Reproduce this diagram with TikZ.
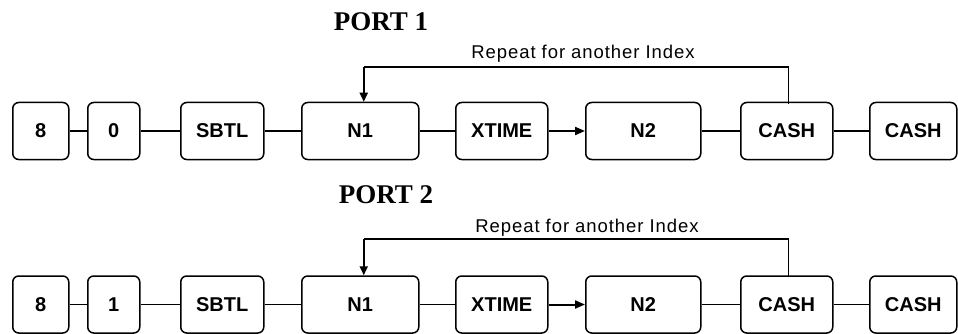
\documentclass[tikz,border=0pt]{standalone}
\usepackage{fontspec}
\setmainfont{Liberation Serif}
\newfontfamily\arialfont{Liberation Sans}
\newfontfamily\arialsp[LetterSpace=5]{Liberation Sans}
\usetikzlibrary{arrows.meta}
\tikzset{
  keybox/.style={draw, line width=1.5pt, rectangle, rounded corners=6pt,
    minimum height=57pt, inner sep=0pt, anchor=west,
    font=\arialfont\bfseries\fontsize{20}{22}\selectfont},
  link/.style={line width=1.5pt},
  linkarrow/.style={line width=2pt, -{Triangle[length=10pt,width=8pt]}},
  loopline/.style={line width=1.4pt},
  looparrow/.style={line width=2pt, -{Triangle[length=9pt,width=8pt]}},
  reptext/.style={anchor=base, inner sep=0pt, font=\arialsp\fontsize{18.5}{20}\selectfont},
  porttext/.style={anchor=base, inner sep=0pt, font=\bfseries\fontsize{27}{29}\selectfont},
}
\begin{document}
\begin{tikzpicture}[x=1pt,y=1pt]
\useasboundingbox (0,0) rectangle (958,-334);
% ---------- PORT 1 ----------
\node[porttext] (p1) at (381,-31) {PORT 1};
\node[reptext] (rep1) at (583,-59) {Repeat for another Index};
\node[keybox, minimum width=56pt] (a8) at (12,-131) {8};
\node[keybox, minimum width=52pt] (a0) at (87,-131) {0};
\node[keybox, minimum width=83pt] (asb) at (180,-131) {SBTL};
\node[keybox, minimum width=117pt] (an1) at (301,-131) {N1};
\node[keybox, minimum width=92pt] (axt) at (455,-131) {XTIME};
\node[keybox, minimum width=115pt] (an2) at (585,-131) {N2};
\node[keybox, minimum width=92pt] (ac1) at (740,-131) {CASH};
\node[keybox, minimum width=87pt] (ac2) at (869,-131) {CASH};
\draw[link] (a8) -- (a0);
\draw[link] (a0) -- (asb);
\draw[link] (asb) -- (an1);
\draw[link] (an1) -- (axt);
\draw[linkarrow] (axt) -- (an2);
\draw[link] (an2) -- (ac1);
\draw[link] (ac1) -- (ac2);
\coordinate (r1) at (788,-67);
\draw[loopline] ([xshift=2pt,yshift=-2pt]ac1.north) |- ([xshift=3.5pt]an1.north |- r1);
\draw[looparrow] ([xshift=3.5pt]an1.north |- r1) -- ([xshift=3.5pt]an1.north);
% ---------- PORT 2 ----------
\node[porttext] (p2) at (386,-203) {PORT 2};
\node[reptext] (rep2) at (587,-232) {Repeat for another Index};
\node[keybox, minimum width=56pt] (b8) at (12,-304.5) {8};
\node[keybox, minimum width=52pt] (b1) at (87,-304.5) {1};
\node[keybox, minimum width=83pt] (bsb) at (180,-304.5) {SBTL};
\node[keybox, minimum width=117pt] (bn1) at (301,-304.5) {N1};
\node[keybox, minimum width=92pt] (bxt) at (455,-304.5) {XTIME};
\node[keybox, minimum width=115pt] (bn2) at (585,-304.5) {N2};
\node[keybox, minimum width=92pt] (bc1) at (740,-304.5) {CASH};
\node[keybox, minimum width=87pt] (bc2) at (869,-304.5) {CASH};
\draw[link] (b8) -- (b1);
\draw[link] (b1) -- (bsb);
\draw[link] (bsb) -- (bn1);
\draw[link] (bn1) -- (bxt);
\draw[linkarrow] (bxt) -- (bn2);
\draw[link] (bn2) -- (bc1);
\draw[link] (bc1) -- (bc2);
\coordinate (r2) at (788,-239);
\draw[loopline] ([xshift=2pt,yshift=-2pt]bc1.north) |- ([xshift=3.5pt]bn1.north |- r2);
\draw[looparrow] ([xshift=3.5pt]bn1.north |- r2) -- ([xshift=3.5pt]bn1.north);
\end{tikzpicture}
\end{document}
